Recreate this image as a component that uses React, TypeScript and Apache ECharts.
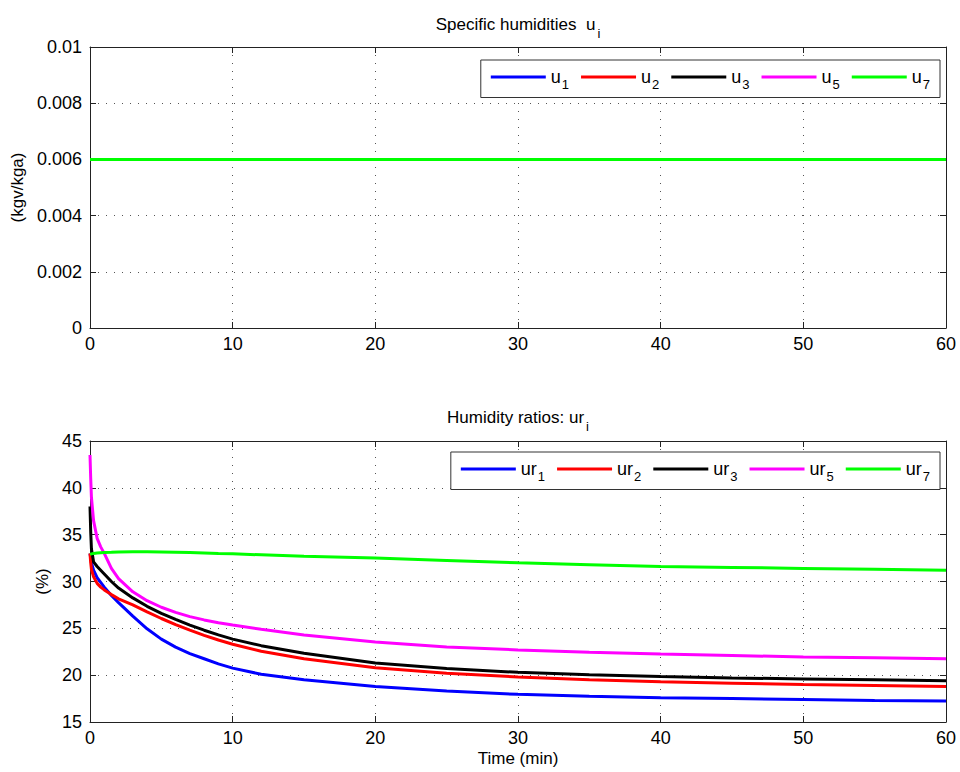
import React, { useEffect, useRef } from "react";
import * as echarts from "echarts";

const FONT = "Liberation Sans, Arial, Helvetica, sans-serif";

// Top panel: specific humidities (kgv/kga)
const U_TIME = [0, 60];
const U1 = [0.006, 0.006];
const U2 = [0.006, 0.006];
const U3 = [0.006, 0.006];
const U5 = [0.006, 0.006];
const U7 = [0.006, 0.006];

// Bottom panel: humidity ratios (%)
const TIME = [0, 0.05, 0.1, 0.25, 0.5, 0.75, 1, 1.5, 2, 3, 4, 5, 6, 7, 8, 9, 10, 12, 15, 20, 25, 30, 35, 40, 45, 50, 55, 60];
const UR1 = [33.0, 32.5, 32.0, 31.2, 30.4, 29.9, 29.4, 28.5, 27.75, 26.3, 24.95, 23.85, 23.0, 22.3, 21.75, 21.2, 20.75, 20.1, 19.5, 18.8, 18.3, 17.95, 17.75, 17.6, 17.5, 17.4, 17.3, 17.25];
const UR2 = [33.0, 32.0, 31.3, 30.5, 29.8, 29.4, 29.1, 28.6, 28.15, 27.5, 26.75, 26.05, 25.4, 24.8, 24.25, 23.75, 23.3, 22.55, 21.75, 20.8, 20.2, 19.8, 19.5, 19.3, 19.15, 19.0, 18.9, 18.8];
const UR3 = [38.0, 35.3, 33.5, 32.1, 31.6, 31.2, 30.8, 30.0, 29.3, 28.25, 27.35, 26.6, 25.95, 25.35, 24.8, 24.3, 23.85, 23.15, 22.35, 21.3, 20.7, 20.3, 20.05, 19.85, 19.7, 19.6, 19.5, 19.4];
const UR5 = [43.5, 41.0, 39.0, 36.5, 34.6, 33.7, 33.0, 31.4, 30.3, 28.9, 27.95, 27.25, 26.7, 26.25, 25.9, 25.6, 25.35, 24.9, 24.3, 23.55, 23.0, 22.7, 22.45, 22.25, 22.1, 21.95, 21.85, 21.75];
const UR7 = [32.9, 32.92, 32.95, 33.0, 33.05, 33.08, 33.1, 33.12, 33.15, 33.17, 33.17, 33.15, 33.12, 33.09, 33.05, 33.0, 32.95, 32.85, 32.7, 32.5, 32.25, 32.0, 31.8, 31.6, 31.5, 31.4, 31.3, 31.2];

const TOP_NAMES = ["u1", "u2", "u3", "u5", "u7"];
const BOT_NAMES = ["ur1", "ur2", "ur3", "ur5", "ur7"];
const COLORS = ["#0000ff", "#ff0000", "#000000", "#ff00ff", "#00ff00"];

const zip = (xs: number[], ys: number[]) => xs.map((x, i) => [x, ys[i]]);

export default function App() {
  const ref = useRef<HTMLDivElement>(null);
  useEffect(() => {
    document.body.style.margin = "0";
    const chart = echarts.init(ref.current!, null, { renderer: "svg" });

    const axisLine = { show: true, onZero: false, lineStyle: { color: "#222", width: 1 } };
    const tick = { show: true, inside: true, length: 6, lineStyle: { color: "#222" } };
    const split = { show: true, lineStyle: { color: "#555", type: [1, 7], width: 1 } };
    const label = { color: "#000", fontSize: 18, fontFamily: FONT };

    const xPair = (gridIndex: number, name?: string) => [
      {
        type: "value", gridIndex, min: 0, max: 60, interval: 10, position: "bottom",
        axisLine, axisTick: tick, axisLabel: { ...label, margin: 7 }, splitLine: split,
        name: name || "", nameLocation: "middle", nameGap: 28,
        nameTextStyle: { color: "#000", fontSize: 17, fontFamily: FONT },
      },
      {
        type: "value", gridIndex, min: 0, max: 60, interval: 10, position: "top",
        axisLine, axisTick: tick, axisLabel: { show: false }, splitLine: { show: false },
      },
    ];
    const yPair = (gridIndex: number, min: number, max: number, interval: number, name: string, gap: number) => [
      {
        type: "value", gridIndex, min, max, interval, position: "left",
        axisLine, axisTick: tick, axisLabel: { ...label, margin: 8 }, splitLine: split,
        name, nameLocation: "middle", nameGap: gap, nameRotate: 90,
        nameTextStyle: { color: "#000", fontSize: 17, fontFamily: FONT },
      },
      {
        type: "value", gridIndex, min, max, interval, position: "right",
        axisLine, axisTick: tick, axisLabel: { show: false }, splitLine: { show: false },
      },
    ];

    const rich = {
      m: { fontSize: 18, fontFamily: FONT, color: "#000" },
      s: { fontSize: 13, fontFamily: FONT, color: "#000", padding: [14, 0, 0, 1] },
    };
    const legendFmt = (n: string) => `{m|${n.slice(0, -1)}}{s|${n.slice(-1)}}`;

    const topData = [U1, U2, U3, U5, U7];
    const botData = [UR1, UR2, UR3, UR5, UR7];

    const lineSeries = (name: string, data: number[][], color: string, xi: number, yi: number) => ({
      type: "line", name, data, xAxisIndex: xi, yAxisIndex: yi,
      showSymbol: false, symbol: "none", smooth: false,
      lineStyle: { color, width: 3 }, itemStyle: { color },
    });

    const titleRich = {
      m: { fontSize: 17, fontFamily: FONT, fill: "#000", color: "#000" },
      s: { fontSize: 13, fontFamily: FONT, fill: "#000", color: "#000", padding: [18, 0, 0, 2] },
    };

    const legendBase = {
      orient: "horizontal", icon: "rect",
      itemWidth: 55, itemHeight: 3, itemGap: 12, padding: [8, 10, 7, 10],
      borderColor: "#333", borderWidth: 1, backgroundColor: "#fff",
      formatter: legendFmt, textStyle: { rich },
    };

    chart.setOption({
      animation: false,
      backgroundColor: "#fff",
      grid: [
        { left: 90, right: 14, top: 47, height: 281, containLabel: false },
        { left: 90, right: 14, top: 441, height: 281, containLabel: false },
      ],
      xAxis: [...xPair(0), ...xPair(1, "Time (min)")],
      yAxis: [
        ...yPair(0, 0, 0.01, 0.002, "(kgv/kga)", 64),
        ...yPair(1, 15, 45, 5, "(%)", 37),
      ],
      legend: [
        { ...legendBase, data: TOP_NAMES, right: 20, top: 60 },
        { ...legendBase, data: BOT_NAMES, right: 20, top: 452 },
      ],
      graphic: [
        {
          type: "text", x: 518, y: 24,
          style: { text: "{m|Specific humidities  u}{s|i}", rich: titleRich, fill: "#000", align: "center", verticalAlign: "middle" },
        },
        {
          type: "text", x: 518, y: 417,
          style: { text: "{m|Humidity ratios: ur}{s|i}", rich: titleRich, fill: "#000", align: "center", verticalAlign: "middle" },
        },
      ],
      series: [
        ...TOP_NAMES.map((n, i) => lineSeries(n, zip(U_TIME, topData[i]), COLORS[i], 0, 0)),
        ...BOT_NAMES.map((n, i) => lineSeries(n, zip(TIME, botData[i]), COLORS[i], 2, 2)),
      ],
    });
    return () => chart.dispose();
  }, []);
  return <div ref={ref} style={{ width: 960, height: 772 }} />;
}
